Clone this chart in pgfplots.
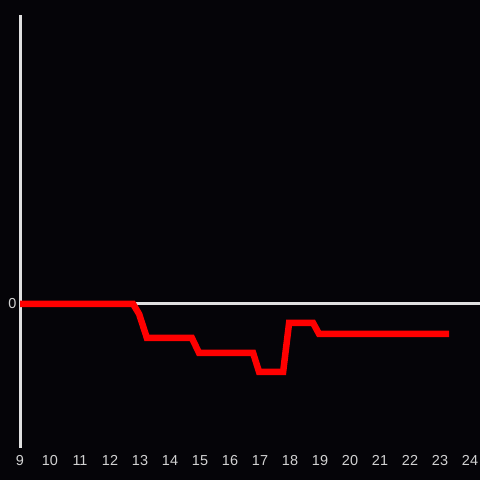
\documentclass[border=0pt]{standalone}
\usepackage{fontspec}
\setmainfont{Liberation Sans}
\usepackage{pgfplots}
\pgfplotsset{compat=1.18}
\definecolor{bg}{RGB}{5,4,8}
\definecolor{axc}{RGB}{224,224,224}
\definecolor{lab}{RGB}{210,210,210}
\begin{document}
\begin{tikzpicture}[x=1bp,y=1bp]
\fill[bg] (0,0) rectangle (480,480);
\useasboundingbox (0,0) rectangle (480,480);
\begin{axis}[
  at={(20bp,32bp)}, anchor=south west,
  width=460bp, height=433bp, scale only axis,
  xmin=9, xmax=24.3333, ymin=-144, ymax=289,
  axis x line*=bottom,
  axis y line*=left,
  x axis line style={draw=none},
  y axis line style={axc, line width=3bp, -},
  xtick={9,...,24}, ytick={0},
  major tick length=0pt,
  tick label style={font=\fontsize{14.5}{16}\selectfont, text=lab},
  xticklabel style={text height=10.5bp, text depth=0bp, yshift=-3.5bp},
  yticklabel style={xshift=0bp},
  /pgf/number format/assume math mode=true,
  clip=false,
]
\addplot[axc, line width=3bp] coordinates {(9,0) (24.3333,0)};
\addplot[red, line width=6.5bp, line join=miter] coordinates {
(9,0) (12.77,0) (12.97,-10) (13.23,-34) (14.73,-34) (14.97,-49) (16.77,-49) (16.97,-68) (17.77,-68) (17.97,-19) (18.77,-19) (18.97,-30) (23.3,-30)};
\end{axis}
\end{tikzpicture}
\end{document}
